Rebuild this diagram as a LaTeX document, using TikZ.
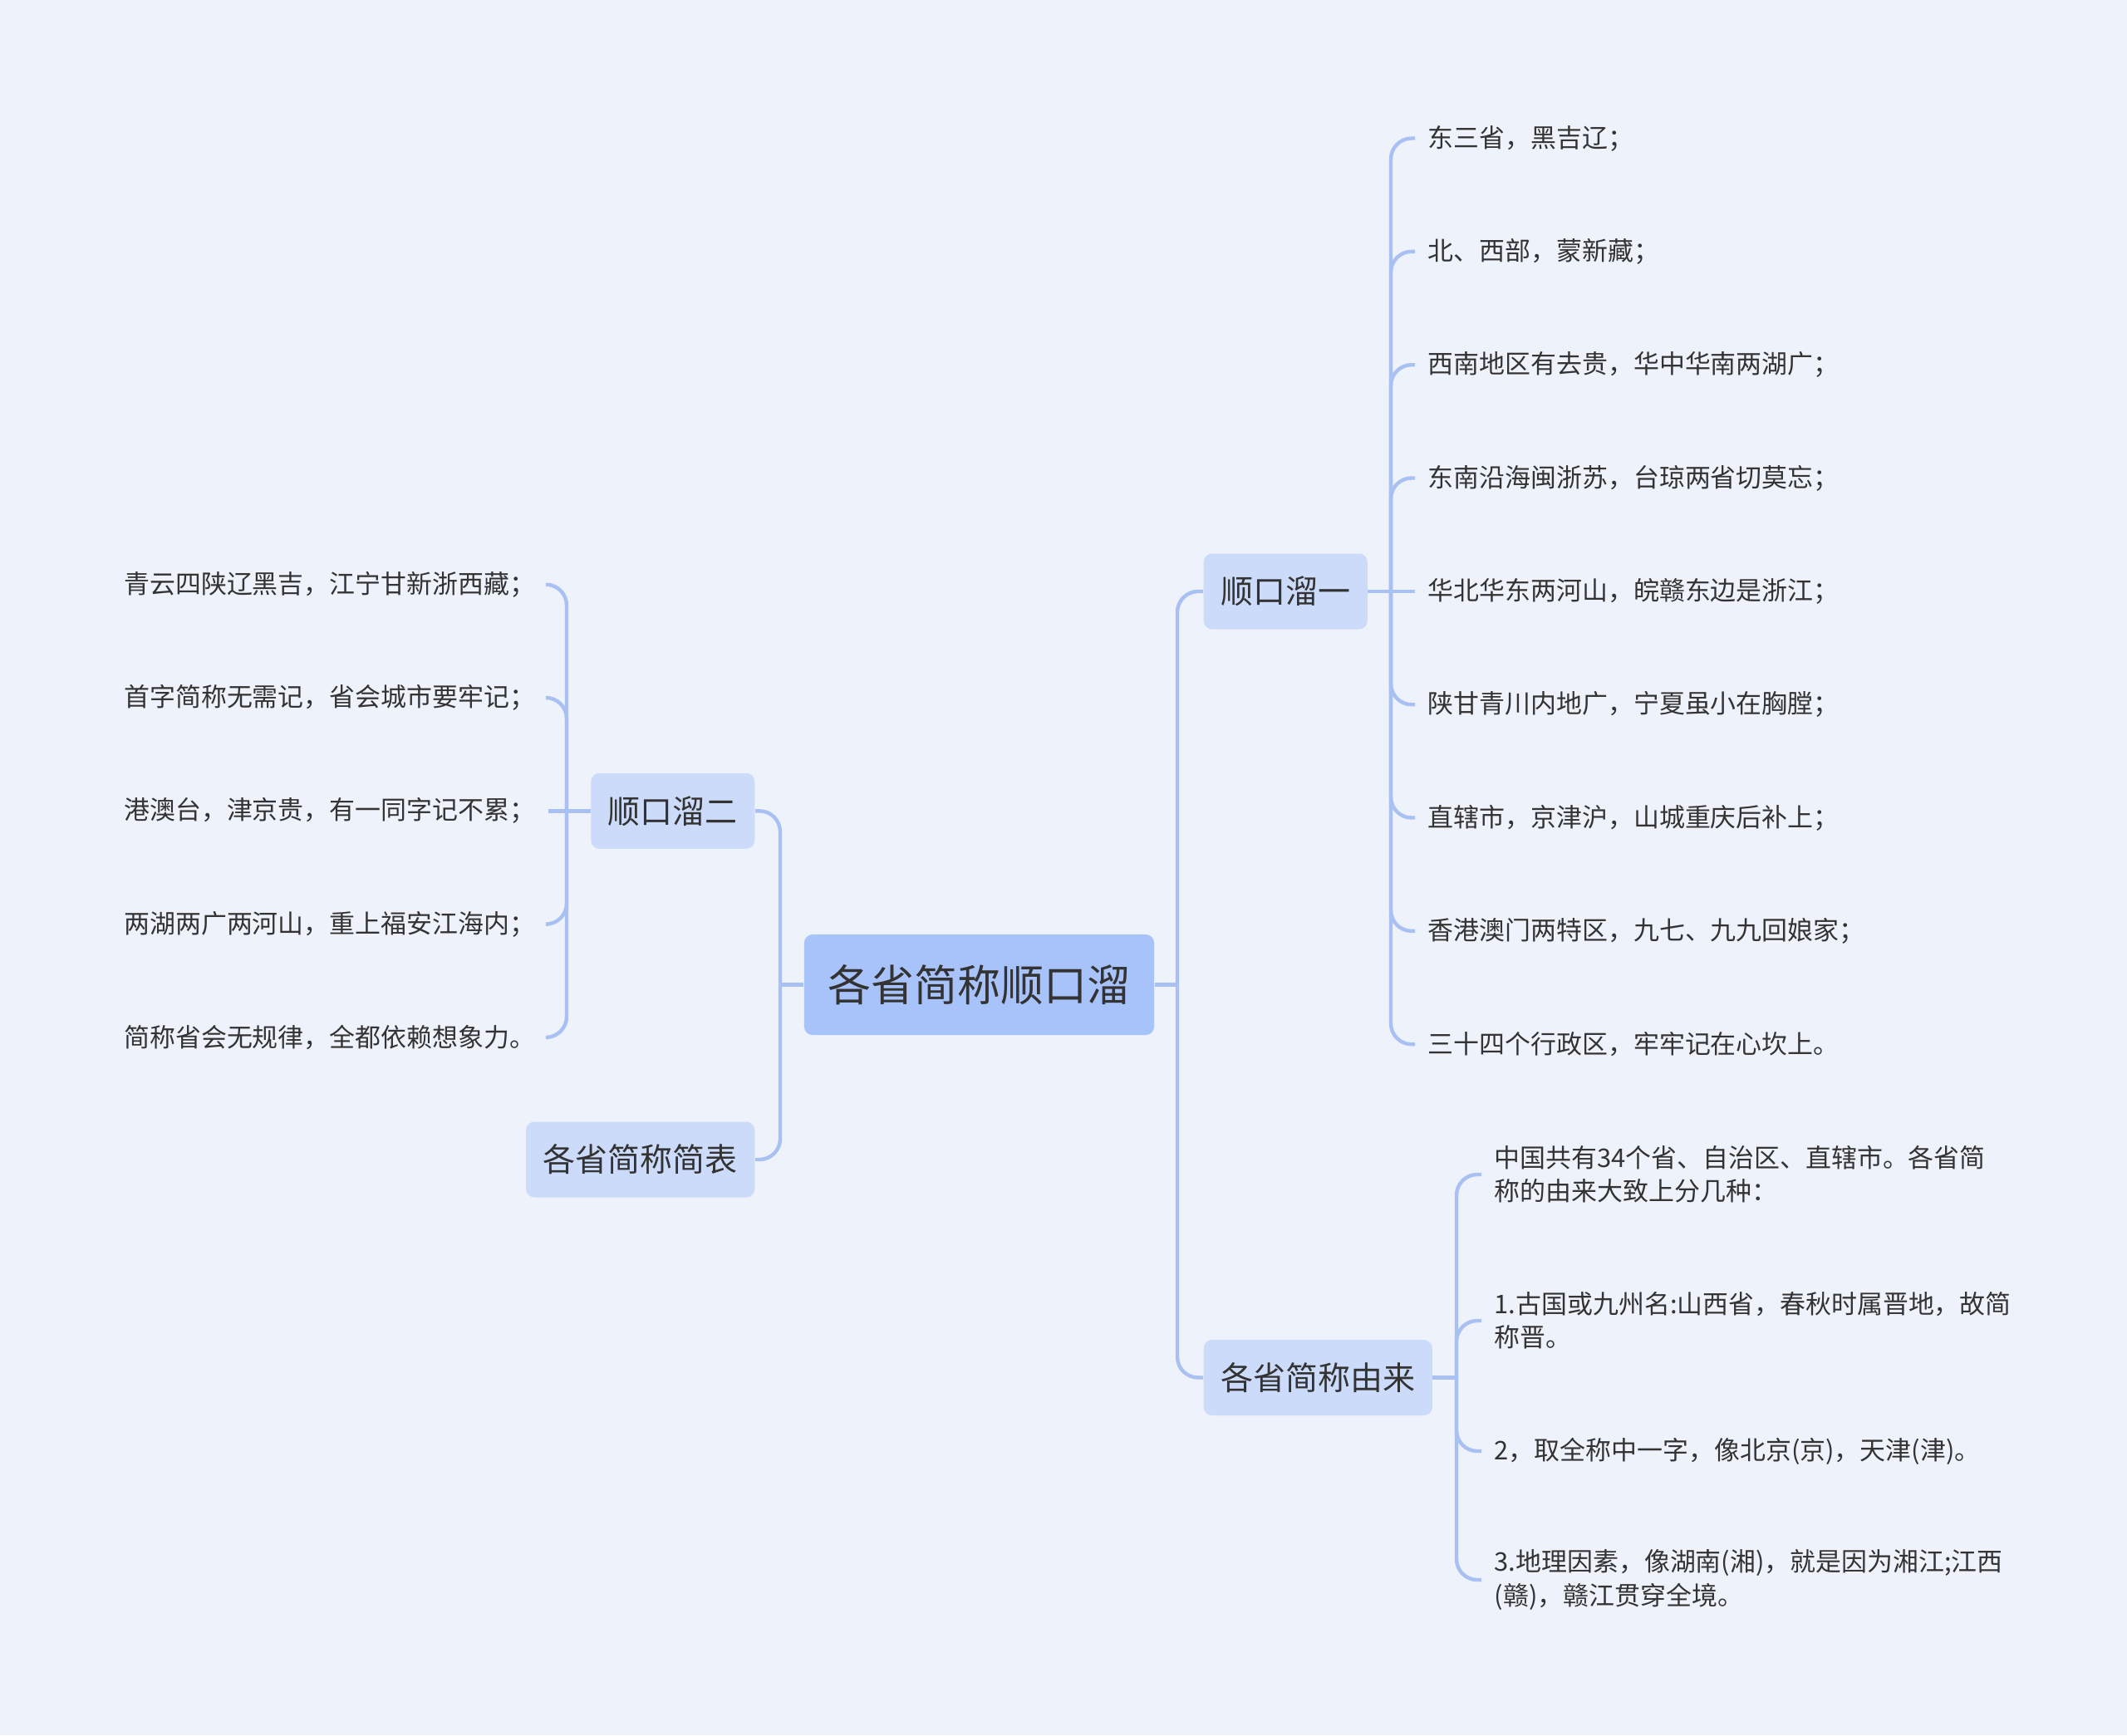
\documentclass[tikz,border=0pt]{standalone}
\usepackage{fontspec}
\setmainfont{Noto Sans CJK SC}
\usetikzlibrary{positioning,calc}
\definecolor{kldi}{HTML}{EEF2FB}
\definecolor{kllan}{HTML}{A8C2FA}
\definecolor{kllanqian}{HTML}{CCDBFA}
\definecolor{klxianse}{HTML}{A8C0F2}
\definecolor{klzi}{HTML}{333333}
\tikzset{
  klgen/.style={fill=kllan, rounded corners=0.1cm, text=klzi, inner xsep=0.285cm, inner ysep=0pt,
                font=\fontsize{14.8pt}{18pt}\selectfont, minimum height=1.21cm},
  klzhi/.style={fill=kllanqian, rounded corners=0.1cm, text=klzi, inner xsep=0.205cm, inner ysep=0pt,
                font=\fontsize{11.1pt}{14pt}\selectfont, minimum height=0.91cm},
  klye/.style={text=klzi, align=left, inner xsep=0.15cm, inner ysep=2pt,
                font=\fontsize{8.8pt}{11.4pt}\selectfont},
  klxian/.style={draw=klxianse, line width=1.25pt, rounded corners=0.25cm},
}
\begin{document}
\begin{tikzpicture}
    \fill[kldi] (0,0) rectangle (25.6,-20.89);
    \useasboundingbox (0,0) rectangle (25.6,-20.89);
    % centro e ramos
    \node[klgen] (raiz) at (11.785,-11.855) {各省简称顺口溜};
    \node[klzhi, anchor=west] (yi) at (14.48,-7.12) {顺口溜一};
    \node[klzhi, anchor=west] (youlai) at (14.48,-16.585) {各省简称由来};
    \node[klzhi, anchor=east] (er) at (9.09,-9.763) {顺口溜二};
    \node[klzhi, anchor=east] (jianbiao) at (9.09,-13.96) {各省简称简表};
    % folhas do ramo 1
    \node[klye, anchor=west] (y1) at (17.03,-1.665) {东三省，黑吉辽；};
    \node[klye, anchor=west] (y2) at (17.03,-3.028) {北、西部，蒙新藏；};
    \node[klye, anchor=west] (y3) at (17.03,-4.392) {西南地区有去贵，华中华南两湖广；};
    \node[klye, anchor=west] (y4) at (17.03,-5.755) {东南沿海闽浙苏，台琼两省切莫忘；};
    \node[klye, anchor=west] (y5) at (17.03,-7.12) {华北华东两河山，皖赣东边是浙江；};
    \node[klye, anchor=west] (y6) at (17.03,-8.482) {陕甘青川内地广，宁夏虽小在胸膛；};
    \node[klye, anchor=west] (y7) at (17.03,-9.845) {直辖市，京津沪，山城重庆后补上；};
    \node[klye, anchor=west] (y8) at (17.03,-11.209) {香港澳门两特区，九七、九九回娘家；};
    \node[klye, anchor=west] (y9) at (17.03,-12.572) {三十四个行政区，牢牢记在心坎上。};
    % folhas do ramo 2
    \node[klye, anchor=west] (e1) at (1.336,-7.037) {青云四陕辽黑吉，江宁甘新浙西藏；};
    \node[klye, anchor=west] (e2) at (1.336,-8.400) {首字简称无需记，省会城市要牢记；};
    \node[klye, anchor=west] (e3) at (1.336,-9.763) {港澳台，津京贵，有一同字记不累；};
    \node[klye, anchor=west] (e4) at (1.336,-11.126) {两湖两广两河山，重上福安江海内；};
    \node[klye, anchor=west] (e5) at (1.336,-12.489) {简称省会无规律，全都依赖想象力。};
    % folhas do ramo "由来"
    \node[klye, anchor=west] (u1) at (17.83,-14.14) {中国共有34个省、自治区、直辖市。各省简\\称的由来大致上分几种：};
    \node[klye, anchor=west] (u2) at (17.83,-15.90) {1.古国或九州名:山西省，春秋时属晋地，故简\\称晋。};
    \node[klye, anchor=west] (u3) at (17.83,-17.47) {2，取全称中一字，像北京(京)，天津(津)。};
    \node[klye, anchor=west] (u4) at (17.83,-19.02) {3.地理因素，像湖南(湘)，就是因为湘江;江西\\(赣)，赣江贯穿全境。};
    % pontos de juncao
    \coordinate (jd) at (14.17,-11.855);
    \coordinate (je) at (9.39,-11.855);
    \coordinate (jyi) at (16.74,-7.12);
    \coordinate (jer) at (6.82,-9.763);
    \coordinate (jyl) at (17.53,-16.585);
    % ligacoes
    \draw[klxian] (raiz.east) -- (jd);
    \draw[klxian] (jd) |- (yi.west);
    \draw[klxian] (jd) |- (youlai.west);
    \draw[klxian] (raiz.west) -- (je);
    \draw[klxian] (je) |- (er.east);
    \draw[klxian] (je) |- (jianbiao.east);
    \draw[klxian] (yi.east) -- (jyi);
    \draw[klxian] (jyi) |- (y1.west);
    \draw[klxian] (jyi) |- (y2.west);
    \draw[klxian] (jyi) |- (y3.west);
    \draw[klxian] (jyi) |- (y4.west);
    \draw[klxian] (jyi) -- (y5.west);
    \draw[klxian] (jyi) |- (y6.west);
    \draw[klxian] (jyi) |- (y7.west);
    \draw[klxian] (jyi) |- (y8.west);
    \draw[klxian] (jyi) |- (y9.west);
    \draw[klxian] (er.west) -- (jer);
    \draw[klxian] (jer) |- (e1.east);
    \draw[klxian] (jer) |- (e2.east);
    \draw[klxian] (jer) -- (e3.east);
    \draw[klxian] (jer) |- (e4.east);
    \draw[klxian] (jer) |- (e5.east);
    \draw[klxian] (youlai.east) -- (jyl);
    \draw[klxian] (jyl) |- (u1.west);
    \draw[klxian] (jyl) |- (u2.west);
    \draw[klxian] (jyl) |- (u3.west);
    \draw[klxian] (jyl) |- (u4.west);
\end{tikzpicture}
\end{document}
